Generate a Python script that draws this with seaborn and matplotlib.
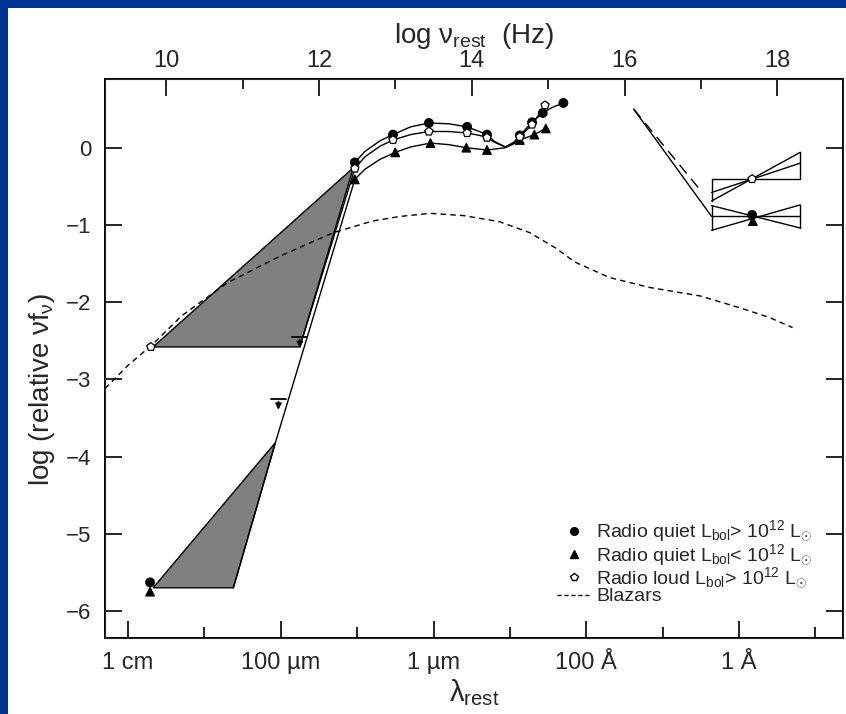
import matplotlib
matplotlib.use('Agg')
import matplotlib.pyplot as plt
import seaborn as sns
import pandas as pd
from matplotlib.lines import Line2D
from matplotlib.patches import Rectangle

# values: x = log nu_rest (Hz), y = log (relative nu f_nu)
# symbols
rq_hi_x = [12.47, 12.97, 13.44, 13.94, 14.20, 14.63, 14.79, 14.93, 15.20, 9.79, 17.67]
rq_hi_y = [-0.19, 0.17, 0.32, 0.27, 0.17, 0.16, 0.33, 0.45, 0.58, -5.63, -0.87]
rq_lo_x = [12.47, 13.00, 13.46, 13.93, 14.20, 14.63, 14.82, 14.97, 9.79, 17.68]
rq_lo_y = [-0.41, -0.06, 0.06, 0.00, -0.03, 0.10, 0.17, 0.25, -5.75, -0.95]
rl_x = [12.47, 12.97, 13.44, 13.94, 14.20, 14.63, 14.79, 14.96, 9.80, 17.67]
rl_y = [-0.27, 0.10, 0.21, 0.19, 0.13, 0.14, 0.30, 0.55, -2.58, -0.405]

# traced fit curves through the IR/optical points
rq_hi_fit_x = [12.47, 12.6, 12.8, 12.97, 13.2, 13.44, 13.7, 13.94, 14.1, 14.2, 14.3, 14.44, 14.55, 14.63, 14.79, 14.93, 15.05, 15.20]
rq_hi_fit_y = [-0.19, -0.05, 0.09, 0.17, 0.27, 0.32, 0.31, 0.27, 0.21, 0.17, 0.08, 0.01, 0.07, 0.16, 0.33, 0.45, 0.52, 0.58]
rl_fit_x = [12.47, 12.6, 12.8, 12.97, 13.2, 13.44, 13.7, 13.94, 14.1, 14.2, 14.3, 14.44, 14.55, 14.63, 14.79, 14.96]
rl_fit_y = [-0.27, -0.12, 0.02, 0.10, 0.17, 0.21, 0.21, 0.19, 0.16, 0.13, 0.07, 0.01, 0.06, 0.14, 0.30, 0.55]
rq_lo_fit_x = [12.47, 12.6, 12.8, 13.0, 13.2, 13.46, 13.7, 13.93, 14.2, 14.44, 14.55, 14.63, 14.82, 14.97]
rq_lo_fit_y = [-0.41, -0.28, -0.15, -0.06, 0.01, 0.06, 0.04, 0.00, -0.03, 0.00, 0.05, 0.10, 0.17, 0.25]

# submm / radio extrapolations
rl_radio_x = [12.47, 11.75]
rl_radio_y = [-0.27, -2.58]
rq_radio_x = [12.47, 11.43, 10.88]
rq_radio_y = [-0.41, -3.82, -5.70]
tri_up_x = [12.45, 9.83, 11.75]
tri_up_y = [-0.26, -2.58, -2.58]
tri_lo_x = [11.43, 9.83, 10.88]
tri_lo_y = [-3.82, -5.70, -5.70]
ul_x = [11.75, 11.47]
ul_y = [-2.45, -3.25]

# X-ray
xr_solid_x = [16.12, 17.14]
xr_solid_y = [0.50, -0.89]
xr_dash_x = [16.12, 17.01]
xr_dash_y = [0.50, -0.57]
bt_x = [17.14, 18.30]
bt_rl_flat = [-0.405, -0.405]
bt_rl_steep = [-0.69, -0.06]
bt_rl_mid = [-0.58, -0.20]
bt_rq_flat = [-0.89, -0.89]
bt_rq_down = [-0.75, -1.04]
bt_rq_up = [-1.07, -0.74]

# blazar mean SED
blz_x = [9.20, 9.5, 9.82, 10.2, 10.8, 11.5, 12.19, 12.7, 13.06, 13.46, 13.9, 14.37, 14.76, 15.1, 15.35, 15.8, 16.33, 16.99, 17.5, 17.9, 18.2]
blz_y = [-3.12, -2.82, -2.55, -2.18, -1.75, -1.40, -1.10, -0.95, -0.89, -0.85, -0.88, -0.96, -1.10, -1.30, -1.48, -1.68, -1.81, -1.92, -2.07, -2.20, -2.33]

# axes
top_major = [10, 12, 14, 16, 18]
top_minor = [11, 13, 15, 17]
lam_major = [9.5, 11.5, 13.5, 15.5, 17.5]
lam_labels = ['1 cm', '100 µm', '1 µm', '100 Å', '1 Å']
lam_minor = [10.5, 12.5, 14.5, 16.5, 18.5]
y_ticks = [0, -1, -2, -3, -4, -5, -6]

sns.set_style('ticks')
plt.rcParams['font.family'] = ['Liberation Sans', 'DejaVu Sans']
plt.rcParams['mathtext.fontset'] = 'custom'
plt.rcParams['mathtext.rm'] = 'Liberation Sans'
plt.rcParams['mathtext.it'] = 'Liberation Sans:italic'

fig = plt.figure(figsize=(8.46, 7.14), dpi=100)
fig.patch.set_facecolor('#013593')
fig.add_artist(Rectangle((8 / 846, 0), 1, 706 / 714, transform=fig.transFigure,
                         facecolor='white', edgecolor='none', zorder=-5))
ax = fig.add_axes([105 / 846, 76 / 714, 738 / 846, 559 / 714])

# grey wedges
ax.fill(tri_up_x, tri_up_y, facecolor='#808080', edgecolor='black', lw=1, zorder=1)
ax.fill(tri_lo_x, tri_lo_y, facecolor='#808080', edgecolor='black', lw=1, zorder=1)

# blazars
sns.lineplot(x=blz_x, y=blz_y, sort=False, color='black', lw=1, ls=(0, (4, 3)), ax=ax, zorder=2)

# fits
fits = pd.concat([
    pd.DataFrame({'x': rq_hi_fit_x, 'y': rq_hi_fit_y, 'g': 'rq_hi'}),
    pd.DataFrame({'x': rl_fit_x, 'y': rl_fit_y, 'g': 'rl'}),
    pd.DataFrame({'x': rq_lo_fit_x, 'y': rq_lo_fit_y, 'g': 'rq_lo'}),
])
sns.lineplot(data=fits, x='x', y='y', units='g', estimator=None, sort=False,
             color='black', lw=1, ax=ax, zorder=3)

ax.plot(rl_radio_x, rl_radio_y, color='black', lw=1, zorder=3)
ax.plot(rq_radio_x, rq_radio_y, color='black', lw=1, zorder=3)

# upper limits
for x, y in zip(ul_x, ul_y):
    ax.plot([x - 0.1, x + 0.1], [y, y], color='black', lw=1.3, zorder=3)
    ax.annotate('', xy=(x, y - 0.18), xytext=(x, y),
                arrowprops=dict(arrowstyle='-|>', color='black', lw=1.1, mutation_scale=9))

# X-ray
ax.plot(xr_solid_x, xr_solid_y, color='black', lw=1)
ax.plot(xr_dash_x, xr_dash_y, color='black', lw=1, ls=(0, (8, 5)))
for line in [bt_rl_flat, bt_rl_steep, bt_rl_mid, bt_rq_flat, bt_rq_down, bt_rq_up]:
    ax.plot(bt_x, line, color='black', lw=1)
ax.plot([bt_x[0]] * 2, [bt_rl_flat[0], bt_rl_steep[0]], color='black', lw=1)
ax.plot([bt_x[1]] * 2, [bt_rl_flat[1], bt_rl_steep[1]], color='black', lw=1)
ax.plot([bt_x[0]] * 2, [bt_rq_down[0], bt_rq_up[0]], color='black', lw=1)
ax.plot([bt_x[1]] * 2, [bt_rq_down[1], bt_rq_up[1]], color='black', lw=1)

# symbols
pts = pd.concat([
    pd.DataFrame({'x': rq_hi_x, 'y': rq_hi_y, 'g': 'rq_hi'}),
    pd.DataFrame({'x': rq_lo_x, 'y': rq_lo_y, 'g': 'rq_lo'}),
    pd.DataFrame({'x': rl_x, 'y': rl_y, 'g': 'rl'}),
])
sns.scatterplot(data=pts, x='x', y='y', hue='g', style='g',
                markers={'rq_hi': 'o', 'rq_lo': '^', 'rl': 'p'},
                palette={'rq_hi': 'black', 'rq_lo': 'black', 'rl': 'white'},
                edgecolor='black', linewidth=0.9, s=38, legend=False, ax=ax, zorder=4)

ax.set_xlim(9.20, 18.86)
ax.set_ylim(-6.35, 0.89)

ax.set_xticks(lam_major)
ax.set_xticklabels(lam_labels)
ax.set_xticks(lam_minor, minor=True)
ax.set_yticks(y_ticks)
ax.tick_params(axis='both', which='both', direction='in', width=1.2, color='black')
ax.tick_params(axis='x', which='major', length=12, pad=10, labelsize=17)
ax.tick_params(axis='x', which='minor', length=8)
ax.tick_params(axis='y', which='major', length=12, pad=10, right=True, labelsize=16)
for s in ax.spines.values():
    s.set_linewidth(1.4)
    s.set_color('black')

ax2 = ax.twiny()
ax2.set_xlim(ax.get_xlim())
ax2.set_xticks(top_major)
ax2.set_xticks(top_minor, minor=True)
ax2.tick_params(axis='x', which='both', direction='in', width=1.2, color='black')
ax2.tick_params(axis='x', which='major', length=12, pad=5, labelsize=17)
ax2.tick_params(axis='x', which='minor', length=7)

ax.set_ylabel(r'log (relative $\mathrm{\nu f_\nu}$)', fontsize=20, va='center')
ax.yaxis.set_label_coords(-0.085, 0.444)
ax.set_xlabel(r'$\mathrm{\lambda_{rest}}$', fontsize=21, va='center')
ax.xaxis.set_label_coords(0.501, -0.098)
ax2.set_xlabel(r'log $\mathrm{\nu_{rest}}$  (Hz)', fontsize=20, va='center')
ax2.xaxis.set_label_coords(0.5, 1.077)

handles = [
    Line2D([], [], marker='o', ls='none', color='black', ms=5.5),
    Line2D([], [], marker='^', ls='none', color='black', ms=5.5),
    Line2D([], [], marker='p', ls='none', mfc='white', mec='black', ms=6),
    Line2D([], [], color='black', lw=1, ls=(0, (3, 2))),
]
labels = [
    r'Radio quiet L$_{\rm bol}$> 10$^{12}$ L$_{\odot}$',
    r'Radio quiet L$_{\rm bol}$< 10$^{12}$ L$_{\odot}$',
    r'Radio loud L$_{\rm bol}$> 10$^{12}$ L$_{\odot}$',
    'Blazars',
]
ax.legend(handles, labels, loc='upper left', bbox_to_anchor=(0.6125, 0.213), frameon=False,
          fontsize=14, handlelength=1.7, handletextpad=0.3, labelspacing=-0.12,
          borderpad=0, borderaxespad=0)

fig.savefig('out.png', dpi=100, facecolor=fig.get_facecolor())
